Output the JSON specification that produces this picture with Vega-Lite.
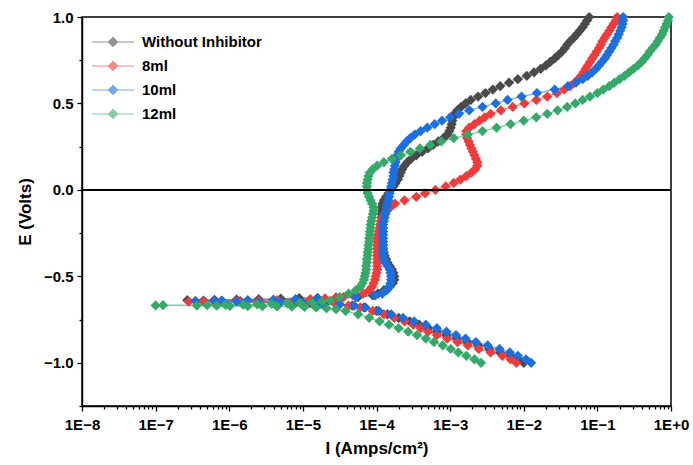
{
"$schema":"https://vega.github.io/schema/vega-lite/v6.json",
"width":589,"height":389,"autosize":"none",
"padding":{"left":82,"top":17,"right":22,"bottom":59},
"background":"#ffffff",
"config":{"font":"Liberation Sans","view":{"stroke":"#000","strokeWidth":1.5},
"axis":{"domainColor":"#000","domainWidth":1.5,"tickColor":"#000","tickWidth":1.3,"tickSize":5,"labelFont":"Liberation Sans","labelFontWeight":"bold","labelFontSize":15,"labelColor":"#000","titleFont":"Liberation Sans","titleFontWeight":"bold","titleFontSize":17,"titleColor":"#000","grid":false}},
"data":{"values":[
{"s":"Without Inhibitor","E":-1.0,"I":1.00e-2},{"s":"Without Inhibitor","E":-0.98,"I":8.32e-3},{"s":"Without Inhibitor","E":-0.96,"I":6.61e-3},{"s":"Without Inhibitor","E":-0.94,"I":4.79e-3},{"s":"Without Inhibitor","E":-0.92,"I":3.39e-3},{"s":"Without Inhibitor","E":-0.90,"I":2.40e-3},{"s":"Without Inhibitor","E":-0.88,"I":1.70e-3},{"s":"Without Inhibitor","E":-0.86,"I":1.23e-3},{"s":"Without Inhibitor","E":-0.84,"I":8.91e-4},{"s":"Without Inhibitor","E":-0.82,"I":6.61e-4},{"s":"Without Inhibitor","E":-0.80,"I":5.01e-4},{"s":"Without Inhibitor","E":-0.78,"I":3.80e-4},{"s":"Without Inhibitor","E":-0.76,"I":2.82e-4},{"s":"Without Inhibitor","E":-0.74,"I":2.00e-4},{"s":"Without Inhibitor","E":-0.72,"I":1.41e-4},{"s":"Without Inhibitor","E":-0.70,"I":1.00e-4},{"s":"Without Inhibitor","E":-0.68,"I":6.76e-5},{"s":"Without Inhibitor","E":-0.67,"I":4.68e-5},{"s":"Without Inhibitor","E":-0.662,"I":3.16e-5},{"s":"Without Inhibitor","E":-0.657,"I":2.00e-5},{"s":"Without Inhibitor","E":-0.653,"I":1.26e-5},{"s":"Without Inhibitor","E":-0.650,"I":7.94e-6},{"s":"Without Inhibitor","E":-0.648,"I":4.47e-6},{"s":"Without Inhibitor","E":-0.646,"I":2.51e-6},{"s":"Without Inhibitor","E":-0.644,"I":1.41e-6},{"s":"Without Inhibitor","E":-0.642,"I":7.94e-7},{"s":"Without Inhibitor","E":-0.640,"I":4.47e-7},{"s":"Without Inhibitor","E":-0.638,"I":2.69e-7},{"s":"Without Inhibitor","E":-0.636,"I":6.31e-7},{"s":"Without Inhibitor","E":-0.634,"I":1.26e-6},{"s":"Without Inhibitor","E":-0.632,"I":2.51e-6},{"s":"Without Inhibitor","E":-0.629,"I":5.01e-6},{"s":"Without Inhibitor","E":-0.626,"I":8.91e-6},{"s":"Without Inhibitor","E":-0.624,"I":1.58e-5},{"s":"Without Inhibitor","E":-0.622,"I":2.82e-5},{"s":"Without Inhibitor","E":-0.620,"I":5.62e-5},{"s":"Without Inhibitor","E":-0.61,"I":8.91e-5},{"s":"Without Inhibitor","E":-0.60,"I":1.05e-4},{"s":"Without Inhibitor","E":-0.58,"I":1.26e-4},{"s":"Without Inhibitor","E":-0.56,"I":1.51e-4},{"s":"Without Inhibitor","E":-0.54,"I":1.66e-4},{"s":"Without Inhibitor","E":-0.52,"I":1.74e-4},{"s":"Without Inhibitor","E":-0.50,"I":1.74e-4},{"s":"Without Inhibitor","E":-0.48,"I":1.70e-4},{"s":"Without Inhibitor","E":-0.46,"I":1.62e-4},{"s":"Without Inhibitor","E":-0.44,"I":1.51e-4},{"s":"Without Inhibitor","E":-0.42,"I":1.41e-4},{"s":"Without Inhibitor","E":-0.40,"I":1.35e-4},{"s":"Without Inhibitor","E":-0.38,"I":1.29e-4},{"s":"Without Inhibitor","E":-0.36,"I":1.26e-4},{"s":"Without Inhibitor","E":-0.34,"I":1.23e-4},{"s":"Without Inhibitor","E":-0.32,"I":1.23e-4},{"s":"Without Inhibitor","E":-0.30,"I":1.20e-4},{"s":"Without Inhibitor","E":-0.28,"I":1.20e-4},{"s":"Without Inhibitor","E":-0.26,"I":1.20e-4},{"s":"Without Inhibitor","E":-0.24,"I":1.17e-4},{"s":"Without Inhibitor","E":-0.22,"I":1.17e-4},{"s":"Without Inhibitor","E":-0.20,"I":1.17e-4},{"s":"Without Inhibitor","E":-0.18,"I":1.17e-4},{"s":"Without Inhibitor","E":-0.16,"I":1.17e-4},{"s":"Without Inhibitor","E":-0.14,"I":1.17e-4},{"s":"Without Inhibitor","E":-0.12,"I":1.17e-4},{"s":"Without Inhibitor","E":-0.10,"I":1.17e-4},{"s":"Without Inhibitor","E":-0.08,"I":1.20e-4},{"s":"Without Inhibitor","E":-0.06,"I":1.26e-4},{"s":"Without Inhibitor","E":-0.04,"I":1.35e-4},{"s":"Without Inhibitor","E":-0.02,"I":1.45e-4},{"s":"Without Inhibitor","E":0.0,"I":1.55e-4},{"s":"Without Inhibitor","E":0.02,"I":1.70e-4},{"s":"Without Inhibitor","E":0.04,"I":1.82e-4},{"s":"Without Inhibitor","E":0.06,"I":1.95e-4},{"s":"Without Inhibitor","E":0.08,"I":2.04e-4},{"s":"Without Inhibitor","E":0.10,"I":2.14e-4},{"s":"Without Inhibitor","E":0.12,"I":2.24e-4},{"s":"Without Inhibitor","E":0.14,"I":2.40e-4},{"s":"Without Inhibitor","E":0.16,"I":2.63e-4},{"s":"Without Inhibitor","E":0.18,"I":2.95e-4},{"s":"Without Inhibitor","E":0.20,"I":3.47e-4},{"s":"Without Inhibitor","E":0.22,"I":4.17e-4},{"s":"Without Inhibitor","E":0.24,"I":5.01e-4},{"s":"Without Inhibitor","E":0.26,"I":5.89e-4},{"s":"Without Inhibitor","E":0.28,"I":6.92e-4},{"s":"Without Inhibitor","E":0.30,"I":8.13e-4},{"s":"Without Inhibitor","E":0.32,"I":9.12e-4},{"s":"Without Inhibitor","E":0.34,"I":9.77e-4},{"s":"Without Inhibitor","E":0.36,"I":1.02e-3},{"s":"Without Inhibitor","E":0.38,"I":1.05e-3},{"s":"Without Inhibitor","E":0.40,"I":1.07e-3},{"s":"Without Inhibitor","E":0.42,"I":1.10e-3},{"s":"Without Inhibitor","E":0.44,"I":1.15e-3},{"s":"Without Inhibitor","E":0.46,"I":1.26e-3},{"s":"Without Inhibitor","E":0.48,"I":1.41e-3},{"s":"Without Inhibitor","E":0.50,"I":1.62e-3},{"s":"Without Inhibitor","E":0.52,"I":1.91e-3},{"s":"Without Inhibitor","E":0.54,"I":2.40e-3},{"s":"Without Inhibitor","E":0.56,"I":3.02e-3},{"s":"Without Inhibitor","E":0.58,"I":3.80e-3},{"s":"Without Inhibitor","E":0.60,"I":4.79e-3},{"s":"Without Inhibitor","E":0.62,"I":6.31e-3},{"s":"Without Inhibitor","E":0.64,"I":8.32e-3},{"s":"Without Inhibitor","E":0.66,"I":1.10e-2},{"s":"Without Inhibitor","E":0.68,"I":1.38e-2},{"s":"Without Inhibitor","E":0.70,"I":1.70e-2},{"s":"Without Inhibitor","E":0.72,"I":2.00e-2},{"s":"Without Inhibitor","E":0.74,"I":2.29e-2},{"s":"Without Inhibitor","E":0.76,"I":2.63e-2},{"s":"Without Inhibitor","E":0.78,"I":2.95e-2},{"s":"Without Inhibitor","E":0.80,"I":3.31e-2},{"s":"Without Inhibitor","E":0.82,"I":3.63e-2},{"s":"Without Inhibitor","E":0.84,"I":3.89e-2},{"s":"Without Inhibitor","E":0.86,"I":4.27e-2},{"s":"Without Inhibitor","E":0.88,"I":4.79e-2},{"s":"Without Inhibitor","E":0.90,"I":5.25e-2},{"s":"Without Inhibitor","E":0.92,"I":5.75e-2},{"s":"Without Inhibitor","E":0.94,"I":6.31e-2},{"s":"Without Inhibitor","E":0.96,"I":6.76e-2},{"s":"Without Inhibitor","E":0.98,"I":7.24e-2},{"s":"Without Inhibitor","E":1.0,"I":7.76e-2},
{"s":"8ml","E":-1.0,"I":7.94e-3},{"s":"8ml","E":-0.98,"I":6.61e-3},{"s":"8ml","E":-0.96,"I":5.13e-3},{"s":"8ml","E":-0.94,"I":3.55e-3},{"s":"8ml","E":-0.92,"I":2.45e-3},{"s":"8ml","E":-0.90,"I":1.74e-3},{"s":"8ml","E":-0.88,"I":1.26e-3},{"s":"8ml","E":-0.86,"I":9.12e-4},{"s":"8ml","E":-0.84,"I":6.61e-4},{"s":"8ml","E":-0.82,"I":5.01e-4},{"s":"8ml","E":-0.80,"I":3.98e-4},{"s":"8ml","E":-0.78,"I":3.16e-4},{"s":"8ml","E":-0.76,"I":2.40e-4},{"s":"8ml","E":-0.74,"I":1.74e-4},{"s":"8ml","E":-0.72,"I":1.26e-4},{"s":"8ml","E":-0.70,"I":8.91e-5},{"s":"8ml","E":-0.68,"I":6.03e-5},{"s":"8ml","E":-0.67,"I":4.17e-5},{"s":"8ml","E":-0.663,"I":2.82e-5},{"s":"8ml","E":-0.658,"I":1.78e-5},{"s":"8ml","E":-0.655,"I":1.12e-5},{"s":"8ml","E":-0.653,"I":7.08e-6},{"s":"8ml","E":-0.651,"I":4.47e-6},{"s":"8ml","E":-0.650,"I":2.51e-6},{"s":"8ml","E":-0.649,"I":1.41e-6},{"s":"8ml","E":-0.648,"I":7.94e-7},{"s":"8ml","E":-0.647,"I":4.47e-7},{"s":"8ml","E":-0.646,"I":2.82e-7},{"s":"8ml","E":-0.645,"I":6.31e-7},{"s":"8ml","E":-0.643,"I":1.26e-6},{"s":"8ml","E":-0.641,"I":2.51e-6},{"s":"8ml","E":-0.638,"I":4.47e-6},{"s":"8ml","E":-0.635,"I":7.94e-6},{"s":"8ml","E":-0.632,"I":1.26e-5},{"s":"8ml","E":-0.628,"I":2.00e-5},{"s":"8ml","E":-0.624,"I":2.82e-5},{"s":"8ml","E":-0.62,"I":3.55e-5},{"s":"8ml","E":-0.61,"I":4.79e-5},{"s":"8ml","E":-0.60,"I":6.61e-5},{"s":"8ml","E":-0.58,"I":7.94e-5},{"s":"8ml","E":-0.56,"I":8.71e-5},{"s":"8ml","E":-0.54,"I":9.12e-5},{"s":"8ml","E":-0.52,"I":9.55e-5},{"s":"8ml","E":-0.50,"I":9.77e-5},{"s":"8ml","E":-0.48,"I":1.00e-4},{"s":"8ml","E":-0.46,"I":1.02e-4},{"s":"8ml","E":-0.44,"I":1.02e-4},{"s":"8ml","E":-0.42,"I":1.02e-4},{"s":"8ml","E":-0.40,"I":1.02e-4},{"s":"8ml","E":-0.38,"I":1.02e-4},{"s":"8ml","E":-0.36,"I":1.02e-4},{"s":"8ml","E":-0.34,"I":1.02e-4},{"s":"8ml","E":-0.32,"I":1.02e-4},{"s":"8ml","E":-0.30,"I":1.02e-4},{"s":"8ml","E":-0.28,"I":1.02e-4},{"s":"8ml","E":-0.26,"I":1.05e-4},{"s":"8ml","E":-0.24,"I":1.07e-4},{"s":"8ml","E":-0.22,"I":1.10e-4},{"s":"8ml","E":-0.20,"I":1.12e-4},{"s":"8ml","E":-0.18,"I":1.15e-4},{"s":"8ml","E":-0.16,"I":1.20e-4},{"s":"8ml","E":-0.14,"I":1.29e-4},{"s":"8ml","E":-0.12,"I":1.38e-4},{"s":"8ml","E":-0.10,"I":1.55e-4},{"s":"8ml","E":-0.08,"I":1.78e-4},{"s":"8ml","E":-0.06,"I":2.40e-4},{"s":"8ml","E":-0.04,"I":3.47e-4},{"s":"8ml","E":-0.02,"I":4.57e-4},{"s":"8ml","E":0.0,"I":6.31e-4},{"s":"8ml","E":0.02,"I":8.71e-4},{"s":"8ml","E":0.04,"I":1.12e-3},{"s":"8ml","E":0.06,"I":1.38e-3},{"s":"8ml","E":0.08,"I":1.66e-3},{"s":"8ml","E":0.10,"I":1.95e-3},{"s":"8ml","E":0.12,"I":2.19e-3},{"s":"8ml","E":0.14,"I":2.34e-3},{"s":"8ml","E":0.16,"I":2.34e-3},{"s":"8ml","E":0.18,"I":2.24e-3},{"s":"8ml","E":0.20,"I":2.14e-3},{"s":"8ml","E":0.22,"I":2.04e-3},{"s":"8ml","E":0.24,"I":1.95e-3},{"s":"8ml","E":0.26,"I":1.86e-3},{"s":"8ml","E":0.28,"I":1.78e-3},{"s":"8ml","E":0.30,"I":1.70e-3},{"s":"8ml","E":0.32,"I":1.66e-3},{"s":"8ml","E":0.34,"I":1.66e-3},{"s":"8ml","E":0.36,"I":1.82e-3},{"s":"8ml","E":0.38,"I":2.14e-3},{"s":"8ml","E":0.40,"I":2.51e-3},{"s":"8ml","E":0.42,"I":2.95e-3},{"s":"8ml","E":0.44,"I":3.55e-3},{"s":"8ml","E":0.46,"I":4.90e-3},{"s":"8ml","E":0.48,"I":7.08e-3},{"s":"8ml","E":0.50,"I":1.02e-2},{"s":"8ml","E":0.52,"I":1.48e-2},{"s":"8ml","E":0.54,"I":2.09e-2},{"s":"8ml","E":0.56,"I":2.82e-2},{"s":"8ml","E":0.58,"I":3.55e-2},{"s":"8ml","E":0.60,"I":4.27e-2},{"s":"8ml","E":0.62,"I":4.90e-2},{"s":"8ml","E":0.64,"I":5.50e-2},{"s":"8ml","E":0.66,"I":6.03e-2},{"s":"8ml","E":0.68,"I":6.46e-2},{"s":"8ml","E":0.70,"I":6.92e-2},{"s":"8ml","E":0.72,"I":7.41e-2},{"s":"8ml","E":0.74,"I":7.94e-2},{"s":"8ml","E":0.76,"I":8.51e-2},{"s":"8ml","E":0.78,"I":9.12e-2},{"s":"8ml","E":0.80,"I":9.77e-2},{"s":"8ml","E":0.82,"I":1.05e-1},{"s":"8ml","E":0.84,"I":1.12e-1},{"s":"8ml","E":0.86,"I":1.17e-1},{"s":"8ml","E":0.88,"I":1.26e-1},{"s":"8ml","E":0.90,"I":1.35e-1},{"s":"8ml","E":0.92,"I":1.45e-1},{"s":"8ml","E":0.94,"I":1.55e-1},{"s":"8ml","E":0.96,"I":1.66e-1},{"s":"8ml","E":0.98,"I":1.78e-1},{"s":"8ml","E":1.0,"I":1.86e-1},
{"s":"10ml","E":-1.0,"I":1.26e-2},{"s":"10ml","E":-0.98,"I":1.07e-2},{"s":"10ml","E":-0.96,"I":8.32e-3},{"s":"10ml","E":-0.94,"I":6.46e-3},{"s":"10ml","E":-0.92,"I":4.68e-3},{"s":"10ml","E":-0.90,"I":3.24e-3},{"s":"10ml","E":-0.88,"I":2.24e-3},{"s":"10ml","E":-0.86,"I":1.62e-3},{"s":"10ml","E":-0.84,"I":1.20e-3},{"s":"10ml","E":-0.82,"I":8.91e-4},{"s":"10ml","E":-0.80,"I":6.61e-4},{"s":"10ml","E":-0.78,"I":4.68e-4},{"s":"10ml","E":-0.76,"I":3.24e-4},{"s":"10ml","E":-0.74,"I":2.29e-4},{"s":"10ml","E":-0.72,"I":1.58e-4},{"s":"10ml","E":-0.70,"I":1.07e-4},{"s":"10ml","E":-0.68,"I":7.08e-5},{"s":"10ml","E":-0.67,"I":5.01e-5},{"s":"10ml","E":-0.662,"I":3.16e-5},{"s":"10ml","E":-0.657,"I":1.78e-5},{"s":"10ml","E":-0.653,"I":1.00e-5},{"s":"10ml","E":-0.650,"I":5.01e-6},{"s":"10ml","E":-0.648,"I":2.51e-6},{"s":"10ml","E":-0.646,"I":1.26e-6},{"s":"10ml","E":-0.644,"I":6.31e-7},{"s":"10ml","E":-0.642,"I":3.47e-7},{"s":"10ml","E":-0.640,"I":7.94e-7},{"s":"10ml","E":-0.638,"I":1.78e-6},{"s":"10ml","E":-0.635,"I":3.98e-6},{"s":"10ml","E":-0.632,"I":7.94e-6},{"s":"10ml","E":-0.628,"I":1.58e-5},{"s":"10ml","E":-0.624,"I":3.16e-5},{"s":"10ml","E":-0.62,"I":5.25e-5},{"s":"10ml","E":-0.61,"I":9.55e-5},{"s":"10ml","E":-0.60,"I":1.20e-4},{"s":"10ml","E":-0.58,"I":1.38e-4},{"s":"10ml","E":-0.56,"I":1.48e-4},{"s":"10ml","E":-0.54,"I":1.55e-4},{"s":"10ml","E":-0.52,"I":1.58e-4},{"s":"10ml","E":-0.50,"I":1.58e-4},{"s":"10ml","E":-0.48,"I":1.55e-4},{"s":"10ml","E":-0.46,"I":1.51e-4},{"s":"10ml","E":-0.44,"I":1.41e-4},{"s":"10ml","E":-0.42,"I":1.32e-4},{"s":"10ml","E":-0.40,"I":1.26e-4},{"s":"10ml","E":-0.38,"I":1.23e-4},{"s":"10ml","E":-0.36,"I":1.23e-4},{"s":"10ml","E":-0.34,"I":1.23e-4},{"s":"10ml","E":-0.32,"I":1.23e-4},{"s":"10ml","E":-0.30,"I":1.23e-4},{"s":"10ml","E":-0.28,"I":1.23e-4},{"s":"10ml","E":-0.26,"I":1.23e-4},{"s":"10ml","E":-0.24,"I":1.23e-4},{"s":"10ml","E":-0.22,"I":1.23e-4},{"s":"10ml","E":-0.20,"I":1.23e-4},{"s":"10ml","E":-0.18,"I":1.26e-4},{"s":"10ml","E":-0.16,"I":1.29e-4},{"s":"10ml","E":-0.14,"I":1.32e-4},{"s":"10ml","E":-0.12,"I":1.35e-4},{"s":"10ml","E":-0.10,"I":1.38e-4},{"s":"10ml","E":-0.08,"I":1.41e-4},{"s":"10ml","E":-0.06,"I":1.45e-4},{"s":"10ml","E":-0.04,"I":1.48e-4},{"s":"10ml","E":-0.02,"I":1.51e-4},{"s":"10ml","E":0.0,"I":1.55e-4},{"s":"10ml","E":0.02,"I":1.58e-4},{"s":"10ml","E":0.04,"I":1.62e-4},{"s":"10ml","E":0.06,"I":1.66e-4},{"s":"10ml","E":0.08,"I":1.70e-4},{"s":"10ml","E":0.10,"I":1.70e-4},{"s":"10ml","E":0.12,"I":1.74e-4},{"s":"10ml","E":0.14,"I":1.78e-4},{"s":"10ml","E":0.16,"I":1.82e-4},{"s":"10ml","E":0.18,"I":1.86e-4},{"s":"10ml","E":0.20,"I":1.91e-4},{"s":"10ml","E":0.22,"I":2.00e-4},{"s":"10ml","E":0.24,"I":2.14e-4},{"s":"10ml","E":0.26,"I":2.34e-4},{"s":"10ml","E":0.28,"I":2.57e-4},{"s":"10ml","E":0.30,"I":2.88e-4},{"s":"10ml","E":0.32,"I":3.31e-4},{"s":"10ml","E":0.34,"I":3.98e-4},{"s":"10ml","E":0.36,"I":4.90e-4},{"s":"10ml","E":0.38,"I":6.17e-4},{"s":"10ml","E":0.40,"I":7.76e-4},{"s":"10ml","E":0.42,"I":1.00e-3},{"s":"10ml","E":0.44,"I":1.32e-3},{"s":"10ml","E":0.46,"I":1.82e-3},{"s":"10ml","E":0.48,"I":2.75e-3},{"s":"10ml","E":0.50,"I":4.17e-3},{"s":"10ml","E":0.52,"I":6.03e-3},{"s":"10ml","E":0.54,"I":9.33e-3},{"s":"10ml","E":0.56,"I":1.51e-2},{"s":"10ml","E":0.58,"I":2.63e-2},{"s":"10ml","E":0.60,"I":3.98e-2},{"s":"10ml","E":0.62,"I":5.13e-2},{"s":"10ml","E":0.64,"I":6.31e-2},{"s":"10ml","E":0.66,"I":7.41e-2},{"s":"10ml","E":0.68,"I":8.51e-2},{"s":"10ml","E":0.70,"I":9.55e-2},{"s":"10ml","E":0.72,"I":1.05e-1},{"s":"10ml","E":0.74,"I":1.15e-1},{"s":"10ml","E":0.76,"I":1.26e-1},{"s":"10ml","E":0.78,"I":1.35e-1},{"s":"10ml","E":0.80,"I":1.45e-1},{"s":"10ml","E":0.82,"I":1.55e-1},{"s":"10ml","E":0.84,"I":1.66e-1},{"s":"10ml","E":0.86,"I":1.74e-1},{"s":"10ml","E":0.88,"I":1.86e-1},{"s":"10ml","E":0.90,"I":1.95e-1},{"s":"10ml","E":0.92,"I":2.04e-1},{"s":"10ml","E":0.94,"I":2.14e-1},{"s":"10ml","E":0.96,"I":2.19e-1},{"s":"10ml","E":0.98,"I":2.24e-1},{"s":"10ml","E":1.0,"I":2.24e-1},
{"s":"12ml","E":-1.0,"I":2.63e-3},{"s":"12ml","E":-0.98,"I":2.14e-3},{"s":"12ml","E":-0.96,"I":1.66e-3},{"s":"12ml","E":-0.94,"I":1.29e-3},{"s":"12ml","E":-0.92,"I":1.02e-3},{"s":"12ml","E":-0.90,"I":7.94e-4},{"s":"12ml","E":-0.88,"I":6.03e-4},{"s":"12ml","E":-0.86,"I":4.68e-4},{"s":"12ml","E":-0.84,"I":3.55e-4},{"s":"12ml","E":-0.82,"I":2.69e-4},{"s":"12ml","E":-0.80,"I":2.00e-4},{"s":"12ml","E":-0.78,"I":1.48e-4},{"s":"12ml","E":-0.76,"I":1.10e-4},{"s":"12ml","E":-0.74,"I":7.94e-5},{"s":"12ml","E":-0.72,"I":5.62e-5},{"s":"12ml","E":-0.70,"I":3.80e-5},{"s":"12ml","E":-0.69,"I":2.82e-5},{"s":"12ml","E":-0.685,"I":2.09e-5},{"s":"12ml","E":-0.680,"I":1.51e-5},{"s":"12ml","E":-0.677,"I":1.05e-5},{"s":"12ml","E":-0.675,"I":7.08e-6},{"s":"12ml","E":-0.674,"I":4.47e-6},{"s":"12ml","E":-0.673,"I":2.82e-6},{"s":"12ml","E":-0.672,"I":1.78e-6},{"s":"12ml","E":-0.671,"I":1.02e-6},{"s":"12ml","E":-0.670,"I":6.76e-7},{"s":"12ml","E":-0.669,"I":3.63e-7},{"s":"12ml","E":-0.668,"I":1.00e-7},{"s":"12ml","E":-0.667,"I":1.26e-7},{"s":"12ml","E":-0.666,"I":5.01e-7},{"s":"12ml","E":-0.665,"I":8.91e-7},{"s":"12ml","E":-0.664,"I":1.55e-6},{"s":"12ml","E":-0.662,"I":2.40e-6},{"s":"12ml","E":-0.660,"I":3.80e-6},{"s":"12ml","E":-0.657,"I":6.17e-6},{"s":"12ml","E":-0.654,"I":9.12e-6},{"s":"12ml","E":-0.650,"I":1.32e-5},{"s":"12ml","E":-0.645,"I":1.82e-5},{"s":"12ml","E":-0.640,"I":2.34e-5},{"s":"12ml","E":-0.62,"I":3.16e-5},{"s":"12ml","E":-0.60,"I":4.17e-5},{"s":"12ml","E":-0.58,"I":5.25e-5},{"s":"12ml","E":-0.56,"I":6.03e-5},{"s":"12ml","E":-0.54,"I":6.46e-5},{"s":"12ml","E":-0.52,"I":6.76e-5},{"s":"12ml","E":-0.50,"I":6.92e-5},{"s":"12ml","E":-0.48,"I":7.08e-5},{"s":"12ml","E":-0.46,"I":7.24e-5},{"s":"12ml","E":-0.44,"I":7.24e-5},{"s":"12ml","E":-0.42,"I":7.41e-5},{"s":"12ml","E":-0.40,"I":7.41e-5},{"s":"12ml","E":-0.38,"I":7.59e-5},{"s":"12ml","E":-0.36,"I":7.59e-5},{"s":"12ml","E":-0.34,"I":7.76e-5},{"s":"12ml","E":-0.32,"I":7.76e-5},{"s":"12ml","E":-0.30,"I":7.94e-5},{"s":"12ml","E":-0.28,"I":7.94e-5},{"s":"12ml","E":-0.26,"I":8.13e-5},{"s":"12ml","E":-0.24,"I":8.13e-5},{"s":"12ml","E":-0.22,"I":8.32e-5},{"s":"12ml","E":-0.20,"I":8.32e-5},{"s":"12ml","E":-0.18,"I":8.51e-5},{"s":"12ml","E":-0.16,"I":8.71e-5},{"s":"12ml","E":-0.14,"I":8.91e-5},{"s":"12ml","E":-0.12,"I":9.12e-5},{"s":"12ml","E":-0.10,"I":9.12e-5},{"s":"12ml","E":-0.08,"I":8.71e-5},{"s":"12ml","E":-0.06,"I":8.32e-5},{"s":"12ml","E":-0.04,"I":7.94e-5},{"s":"12ml","E":-0.02,"I":7.59e-5},{"s":"12ml","E":0.0,"I":7.41e-5},{"s":"12ml","E":0.02,"I":7.41e-5},{"s":"12ml","E":0.04,"I":7.41e-5},{"s":"12ml","E":0.06,"I":7.59e-5},{"s":"12ml","E":0.08,"I":7.76e-5},{"s":"12ml","E":0.10,"I":8.13e-5},{"s":"12ml","E":0.12,"I":8.91e-5},{"s":"12ml","E":0.14,"I":1.02e-4},{"s":"12ml","E":0.16,"I":1.26e-4},{"s":"12ml","E":0.18,"I":1.62e-4},{"s":"12ml","E":0.20,"I":2.14e-4},{"s":"12ml","E":0.22,"I":2.88e-4},{"s":"12ml","E":0.24,"I":3.89e-4},{"s":"12ml","E":0.26,"I":5.37e-4},{"s":"12ml","E":0.28,"I":7.59e-4},{"s":"12ml","E":0.30,"I":1.12e-3},{"s":"12ml","E":0.32,"I":1.74e-3},{"s":"12ml","E":0.34,"I":2.75e-3},{"s":"12ml","E":0.36,"I":4.27e-3},{"s":"12ml","E":0.38,"I":6.61e-3},{"s":"12ml","E":0.40,"I":1.00e-2},{"s":"12ml","E":0.42,"I":1.48e-2},{"s":"12ml","E":0.44,"I":2.09e-2},{"s":"12ml","E":0.46,"I":2.88e-2},{"s":"12ml","E":0.48,"I":3.89e-2},{"s":"12ml","E":0.50,"I":5.01e-2},{"s":"12ml","E":0.52,"I":6.31e-2},{"s":"12ml","E":0.54,"I":7.94e-2},{"s":"12ml","E":0.56,"I":1.00e-1},{"s":"12ml","E":0.58,"I":1.20e-1},{"s":"12ml","E":0.60,"I":1.45e-1},{"s":"12ml","E":0.62,"I":1.70e-1},{"s":"12ml","E":0.64,"I":2.00e-1},{"s":"12ml","E":0.66,"I":2.34e-1},{"s":"12ml","E":0.68,"I":2.69e-1},{"s":"12ml","E":0.70,"I":3.09e-1},{"s":"12ml","E":0.72,"I":3.55e-1},{"s":"12ml","E":0.74,"I":3.98e-1},{"s":"12ml","E":0.76,"I":4.37e-1},{"s":"12ml","E":0.78,"I":4.79e-1},{"s":"12ml","E":0.80,"I":5.13e-1},{"s":"12ml","E":0.82,"I":5.62e-1},{"s":"12ml","E":0.84,"I":6.17e-1},{"s":"12ml","E":0.86,"I":6.61e-1},{"s":"12ml","E":0.88,"I":7.08e-1},{"s":"12ml","E":0.90,"I":7.59e-1},{"s":"12ml","E":0.92,"I":7.94e-1},{"s":"12ml","E":0.94,"I":8.32e-1},{"s":"12ml","E":0.96,"I":8.71e-1},{"s":"12ml","E":0.98,"I":9.12e-1},{"s":"12ml","E":1.0,"I":9.33e-1}
]},
"layer":[
{"mark":{"type":"line","strokeWidth":1.3,"opacity":0.6},
"encoding":{
"x":{"field":"I","type":"quantitative","scale":{"type":"log","domain":[1e-8,1],"nice":false},
"axis":{"values":[1e-8,1e-7,1e-6,1e-5,1e-4,1e-3,1e-2,1e-1,1],"labelExpr":"datum.value >= 0.5 ? '1E+0' : '1E\u2212' + round(-log(datum.value)/LN10)","title":"I (Amps/cm²)","labelPadding":6,"titlePadding":8,"labelFlush":false,"labelOverlap":false}},
"y":{"field":"E","type":"quantitative","scale":{"domain":[-1.25,1.0],"nice":false,"zero":false},
"axis":{"values":[-1,-0.5,0,0.5,1],"format":".1f","title":"E (Volts)","labelPadding":4,"titlePadding":9,"labelFlush":false}},
"color":{"field":"s","type":"nominal","scale":{"domain":["Without Inhibitor","8ml","10ml","12ml"],"range":["#4a4a4a","#ef3b3b","#1c6fde","#35a96a"]},
"legend":{"orient":"top-left","offset":14,"padding":0,"title":null,"labelFont":"Liberation Sans","labelFontSize":15,"labelFontWeight":"bold","labelColor":"#000","symbolType":"M-1.5,0L2.7,0M0.6,-0.45L1.05,0L0.6,0.45L0.15,0Z","symbolSize":400,"symbolStrokeWidth":1.2,"labelOffset":24,"rowPadding":5}},
"order":{"field":"E","type":"quantitative"}}},
{"mark":{"type":"point","shape":"diamond","filled":true,"size":105,"opacity":1,"strokeWidth":0},
"encoding":{
"x":{"field":"I","type":"quantitative","scale":{"type":"log","domain":[1e-8,1],"nice":false},
"axis":{"orient":"bottom","values":[2e-8,3e-8,4e-8,5e-8,6e-8,7e-8,8e-8,9e-8,2e-7,3e-7,4e-7,5e-7,6e-7,7e-7,8e-7,9e-7,2e-6,3e-6,4e-6,5e-6,6e-6,7e-6,8e-6,9e-6,2e-5,3e-5,4e-5,5e-5,6e-5,7e-5,8e-5,9e-5,2e-4,3e-4,4e-4,5e-4,6e-4,7e-4,8e-4,9e-4,2e-3,3e-3,4e-3,5e-3,6e-3,7e-3,8e-3,9e-3,2e-2,3e-2,4e-2,5e-2,6e-2,7e-2,8e-2,9e-2,2e-1,3e-1,4e-1,5e-1,6e-1,7e-1,8e-1,9e-1],"labels":false,"domain":false,"tickSize":3,"title":null}},
"y":{"field":"E","type":"quantitative","scale":{"domain":[-1.25,1.0],"nice":false,"zero":false},
"axis":{"orient":"left","values":[-1.25,-0.75,-0.25,0.25,0.75],"labels":false,"domain":false,"tickSize":3,"title":null}},
"color":{"field":"s","type":"nominal","scale":{"domain":["Without Inhibitor","8ml","10ml","12ml"],"range":["#4a4a4a","#ef3b3b","#1c6fde","#35a96a"]}}}},
{"mark":{"type":"rule","color":"#000","strokeWidth":1.5},"encoding":{"y":{"datum":0,"axis":null}}}
],
"resolve":{"axis":{"x":"independent","y":"independent"}}
}
